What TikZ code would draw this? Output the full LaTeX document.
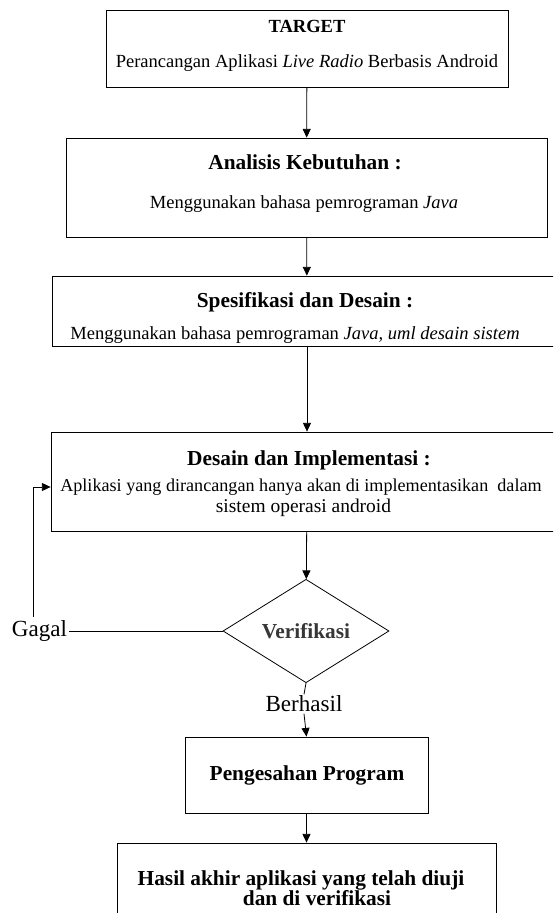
\documentclass[tikz,border=0pt]{standalone}
\usepackage{fontspec}
\setmainfont{Liberation Serif}
\usepackage{tikz}
\usetikzlibrary{arrows.meta,shapes.geometric}
\definecolor{vrgray}{RGB}{55,55,55}

\begin{document}
\begin{tikzpicture}[x=0.75pt, y=-0.75pt,
    box/.style={draw, line width=0.6pt, inner sep=0pt},
    txt/.style={font=\fontsize{13.9}{16}\selectfont, inner sep=0pt},
    ttl/.style={font=\fontsize{16}{19}\selectfont\bfseries, inner sep=0pt},
    lbl/.style={font=\fontsize{17.3}{20}\selectfont, inner sep=1pt},
    arr/.style={-{Triangle[length=6.5pt,width=6pt]}, line width=0.6pt}]
    \useasboundingbox (0,0) rectangle (553,913);
    \clip (0,0) rectangle (553,913);

    % Target
    \node[box, minimum width=301.5pt, minimum height=57.75pt] (target) at (307,48.5) {};
    \node[txt, font=\fontsize{13.9}{16}\selectfont\bfseries] (targetttl) at (307,26) {TARGET};
    \node[txt] (targettxt) at (307,63) {Perancangan Aplikasi \textit{Live Radio} Berbasis Android};

    % Analisis kebutuhan
    \node[box, minimum width=360.75pt, minimum height=74.25pt] (analisis) at (306.5,187.5) {};
    \node[ttl] (analisisttl) at (305,162) {Analisis Kebutuhan :};
    \node[txt] (analisistxt) at (304,204) {Menggunakan bahasa pemrograman \textit{Java}};

    % Spesifikasi dan desain
    \node[box, minimum width=382.5pt, minimum height=52.5pt] (spesifikasi) at (307,311) {};
    \node[ttl] (spesifikasittl) at (305,302) {Spesifikasi dan Desain :};
    \node[txt] (spesifikasitxt) at (295,335) {Menggunakan bahasa pemrograman \textit{Java, uml desain sistem}};

    % Desain dan implementasi
    \node[box, minimum width=384pt, minimum height=74.25pt] (desain) at (307,481.5) {};
    \node[ttl] (desainttl) at (309,460) {Desain dan Implementasi :};
    \node[txt, font=\fontsize{13.6}{16}\selectfont, anchor=west] (desaintxta) at (60,487) {Aplikasi yang dirancangan hanya akan di implementasikan\ \ dalam};
    \node[txt, font=\fontsize{14.6}{17}\selectfont] (desaintxtb) at (303.5,508) {sistem operasi android};

    % Verifikasi
    \node[diamond, draw, line width=0.6pt, inner sep=0pt, minimum width=124.5pt, minimum height=72.75pt,
          font=\fontsize{16}{19}\selectfont\bfseries, text=vrgray] (verifikasi) at (306,631) {Verifikasi};
    \node[lbl] (gagal) at (39.5,631) {Gagal};
    \node[lbl] (berhasil) at (304,704) {Berhasil};
    \coordinate (balik) at (33,617);

    % Pengesahan
    \node[box, minimum width=182.25pt, minimum height=57pt] (pengesahan) at (306.5,775) {};
    \node[ttl] (pengesahanttl) at (307,775) {Pengesahan Program};

    % Hasil akhir
    \node[box, minimum width=284.25pt, minimum height=75pt] (hasil) at (306.5,893) {};
    \node[ttl] (hasilttla) at (301,880) {Hasil akhir aplikasi yang telah diuji};
    \node[ttl] (hasilttlb) at (317,898) {dan di verifikasi};

    % Arrows
    \draw[arr] (target) -- (analisis);
    \draw[arr] (analisis) -- (spesifikasi);
    \draw[arr] (spesifikasi) -- (desain);
    \draw[arr] (desain) -- (verifikasi);
    \draw[line width=0.6pt] (verifikasi.west) -- (gagal.east);
    \draw[arr] (balik) |- (desain.west |- desaintxta);
    \draw[line width=0.6pt] (verifikasi.south) -- (berhasil.north);
    \draw[arr] (berhasil.south) -- (pengesahan.north);
    \draw[arr] (pengesahan) -- (hasil);
\end{tikzpicture}
\end{document}
